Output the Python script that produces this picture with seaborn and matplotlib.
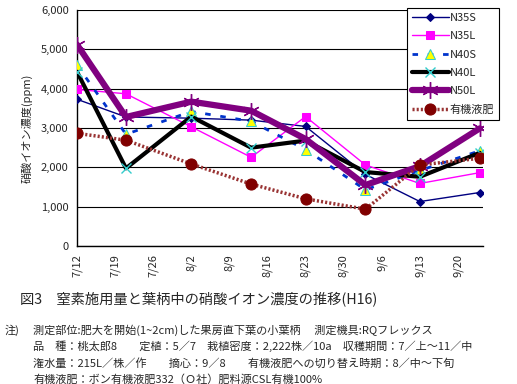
import matplotlib
matplotlib.use('Agg')
import matplotlib.pyplot as plt
import matplotlib.dates as mdates
import seaborn as sns
import pandas as pd

# sampling dates and nitrate readings (ppm)
dates = pd.to_datetime(['2004-07-12', '2004-07-21', '2004-08-02', '2004-08-13',
                        '2004-08-23', '2004-09-03', '2004-09-13', '2004-09-24'])
n35s = [3730, 3280, 3250, 3200, 3040, 1820, 1130, 1360]
n35l = [3980, 3870, 3030, 2255, 3290, 2060, 1590, 1865]
n40s = [4600, 2840, 3420, 3170, 2450, 1430, 1920, 2420]
n40l = [4430, 1975, 3290, 2500, 2680, 1880, 1760, 2370]
n50l = [5120, 3280, 3670, 3440, 2720, 1550, 2030, 2990]
organic = [2865, 2690, 2085, 1575, 1200, 935, 2060, 2230]

tick_dates = pd.date_range('2004-07-12', periods=11, freq='7D')
tick_labels = [f'{d.month}/{d.day}' for d in tick_dates]

caption = '図3　窒素施用量と葉柄中の硝酸イオン濃度の推移(H16)'
notes = [
    '測定部位:肥大を開始(1~2cm)した果房直下葉の小葉柄　 測定機具:RQフレックス',
    '品　種：桃太郎8　　定植：5／7　栽植密度：2,222株／10a　収穫期間：7／上～11／中',
    '潅水量：215L／株／作　　摘心：9／8　　有機液肥への切り替え時期：8／中～下旬',
    '有機液肥：ボン有機液肥332（Ｏ社）肥料源CSL有機100%',
]

sns.set_style('white')
plt.rcParams['font.family'] = ['Noto Sans CJK JP', 'DejaVu Sans']

fig = plt.figure(figsize=(5.17, 3.84), dpi=100)
ax = fig.add_axes([77 / 517, 1 - 246 / 384, 406 / 517, 236 / 384])

series = [
    ('N35S', n35s, dict(color='#000080', lw=1.0, marker='D', ms=4,
                        mfc='#000080', mec='#000080')),
    ('N35L', n35l, dict(color='#FF00FF', lw=1.0, marker='s', ms=6,
                        mfc='#FF00FF', mec='#FF00FF')),
    ('N40S', n40s, dict(color='#0033CC', lw=2.0, linestyle=(0, (2, 3.5)), marker='^', ms=7,
                        mfc='#FFFF00', mec='#33CCCC')),
    ('N40L', n40l, dict(color='black', lw=3.0, marker='x', ms=7,
                        mec='#33CCCC', mew=1.0)),
    ('N50L', n50l, dict(color='#800080', lw=4.5, marker=(6, 2, 0), ms=12,
                        mec='#800080', mew=1.0)),
    ('有機液肥', organic, dict(color='#993333', lw=2.5, linestyle=(0, (0.6, 0.6)), marker='o', ms=8,
                           mfc='#800000', mec='#800000')),
]

for i, (name, vals, kw) in enumerate(series):
    sns.lineplot(x=dates, y=vals, ax=ax, label=name, zorder=3 + i, **kw)

ax.set_ylim(0, 6000)
ax.set_xlim(mdates.date2num(dates[0]), mdates.date2num(dates[-1]) + 0.6)
ax.set_yticks(range(0, 6001, 1000))
ax.set_yticklabels([f'{v:,}' for v in range(0, 6001, 1000)], fontsize=8)
ax.set_xticks(mdates.date2num(tick_dates))
ax.set_xticklabels(tick_labels, rotation=90, fontsize=8)
ax.tick_params(axis='both', direction='out', length=4, width=0.8, color='black', pad=2)
ax.grid(axis='y', color='black', lw=0.8)
ax.set_axisbelow(True)
for side in ['top', 'right']:
    ax.spines[side].set_visible(False)
for side in ['left', 'bottom']:
    ax.spines[side].set_color('black')
    ax.spines[side].set_linewidth(1.0)
ax.set_xlabel('')
ax.set_ylabel('硝酸イオン濃度(ppm)', fontsize=8, labelpad=6)

leg = ax.legend(loc='upper left', bbox_to_anchor=(407 / 517, 1 - 8 / 384),
                bbox_transform=fig.transFigure, fontsize=8, handlelength=3.3,
                handletextpad=0.1, labelspacing=0.75, borderaxespad=0,
                borderpad=0.45, fancybox=False, framealpha=1, numpoints=1)
leg.get_frame().set_edgecolor('black')
leg.get_frame().set_linewidth(0.8)
leg.set_zorder(20)

fig.text(20 / 517, 1 - 299 / 384, caption, fontsize=10.3, va='center')
fig.text(5 / 517, 1 - 330 / 384, '注)', fontsize=8, va='center')
for k, line in enumerate(notes):
    fig.text(33 / 517, 1 - (330 + 16.5 * k) / 384, line, fontsize=8, va='center')

fig.savefig('out.png', dpi=100)
